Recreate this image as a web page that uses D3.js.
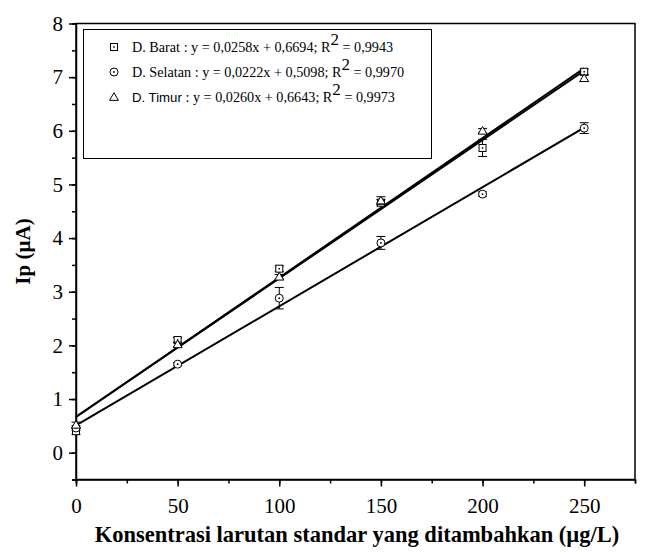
<!DOCTYPE html>
<html>
<head>
<meta charset="utf-8">
<script src="https://cdn.jsdelivr.net/npm/d3@7"></script>
<style>
  html, body { margin: 0; padding: 0; background: #fff; }
  svg { display: block; }
</style>
</head>
<body>
<script>
// Added standard concentration (µg/L) and measured peak current Ip (µA)
const concentrations = [0, 50, 100, 150, 200, 250];
const baratIp    = [0.40, 2.10, 3.43, 4.66, 5.68, 7.10];
const baratErr   = [0.06, 0.05, 0.05, 0.06, 0.16, 0.05];
const selatanIp  = [0.46, 1.65, 2.88, 3.91, 4.82, 6.05];
const selatanErr = [0.04, 0.03, 0.20, 0.12, 0.04, 0.10];
const timurIp    = [0.52, 2.02, 3.28, 4.70, 6.00, 6.98];
const timurErr   = [0.05, 0.04, 0.04, 0.07, 0.04, 0.06];

// Linear regression results for each sampling site
const siteNames  = ["D. Barat", "D. Selatan", "D. Timur"];
const slopes     = [0.0258, 0.0222, 0.0260];
const intercepts = [0.6694, 0.5098, 0.6643];
const rSquared   = [0.9943, 0.9970, 0.9973];
const symbols    = ["square", "circle", "triangle"];

const xTickValues = [0, 50, 100, 150, 200, 250];
const yTickValues = [0, 1, 2, 3, 4, 5, 6, 7, 8];

const SERIF = "'Liberation Serif', 'Times New Roman', serif";
const SANS = "'Liberation Sans', Arial, sans-serif";

const W = 647, H = 554;
const m = { left: 76, right: 12, top: 23.5, bottom: 74.5 };

const svg = d3.select("body").append("svg").attr("width", W).attr("height", H);

const x = d3.scaleLinear().domain([0, 275]).range([m.left, W - m.right]);
const y = d3.scaleLinear().domain([-0.5, 8]).range([H - m.bottom, m.top]);

const fmt = v => v.toFixed(4).replace(".", ",");

// Axes: major ticks with labels, minor ticks in between
const gx = svg.append("g").attr("transform", `translate(0,${y(-0.5)})`);
gx.call(d3.axisBottom(x).tickValues(d3.range(0, 276, 25)).tickSize(4).tickFormat(""));
gx.selectAll(".tick line").attr("stroke-width", 1.5);
const gxMajor = svg.append("g").attr("transform", `translate(0,${y(-0.5)})`)
  .call(d3.axisBottom(x).tickValues(xTickValues).tickSize(7).tickPadding(11));
gxMajor.select(".domain").remove();
gxMajor.selectAll(".tick line").attr("stroke-width", 1.5);
gxMajor.selectAll("text").attr("font-size", 21).attr("font-family", SERIF).attr("dy", "0.75em");

const gy = svg.append("g").attr("transform", `translate(${x(0)},0)`);
gy.call(d3.axisLeft(y).tickValues(d3.range(-0.5, 8.01, 0.5)).tickSize(4).tickFormat(""));
gy.selectAll(".tick line").attr("stroke-width", 1.5);
const gyMajor = svg.append("g").attr("transform", `translate(${x(0)},0)`)
  .call(d3.axisLeft(y).tickValues(yTickValues).tickSize(7).tickPadding(6));
gyMajor.select(".domain").remove();
gyMajor.selectAll(".tick line").attr("stroke-width", 1.5);
gyMajor.selectAll("text").attr("font-size", 21).attr("font-family", SERIF);

svg.selectAll(".domain").attr("stroke-width", 1.5);

// Closed frame on top and right
svg.append("rect")
  .attr("x", x(0)).attr("y", y(8))
  .attr("width", x(275) - x(0)).attr("height", y(-0.5) - y(8))
  .attr("fill", "none").attr("stroke", "#000").attr("stroke-width", 1.5);

// Regression lines
const plot = svg.append("g");
slopes.forEach((s, i) => {
  plot.append("line")
    .attr("x1", x(0)).attr("y1", y(intercepts[i]))
    .attr("x2", x(250)).attr("y2", y(intercepts[i] + s * 250))
    .attr("stroke", "#000").attr("stroke-width", 2);
});

// Markers with error bars
function marker(g, type, cx, cy) {
  if (type === "square") {
    g.append("rect").attr("x", cx - 3.5).attr("y", cy - 3.5).attr("width", 7).attr("height", 7)
      .attr("fill", "#fff").attr("stroke", "#000").attr("stroke-width", 1);
    g.append("rect").attr("x", cx - 0.75).attr("y", cy - 0.75).attr("width", 1.5).attr("height", 1.5).attr("fill", "#000");
  } else if (type === "circle") {
    g.append("circle").attr("cx", cx).attr("cy", cy).attr("r", 4)
      .attr("fill", "#fff").attr("stroke", "#000").attr("stroke-width", 1);
    g.append("circle").attr("cx", cx).attr("cy", cy).attr("r", 0.9).attr("fill", "#000");
  } else {
    const tri = d3.symbol().type(d3.symbolTriangle).size(34);
    g.append("path").attr("d", tri()).attr("transform", `translate(${cx},${cy + 0.8})`)
      .attr("fill", "#fff").attr("stroke", "#000").attr("stroke-width", 1);
  }
}

const seriesValues = [baratIp, selatanIp, timurIp];
const seriesErrors = [baratErr, selatanErr, timurErr];
seriesValues.forEach((vals, i) => {
  const g = svg.append("g");
  vals.forEach((v, j) => {
    const cx = x(concentrations[j]);
    const e = seriesErrors[i][j];
    const y1 = y(v + e), y2 = y(v - e);
    g.append("line").attr("x1", cx).attr("x2", cx).attr("y1", y1).attr("y2", y2)
      .attr("stroke", "#000").attr("stroke-width", 1);
    [y1, y2].forEach(yy => g.append("line").attr("x1", cx - 4.5).attr("x2", cx + 4.5)
      .attr("y1", yy).attr("y2", yy).attr("stroke", "#000").attr("stroke-width", 1));
    marker(g, symbols[i], cx, y(v));
  });
});

// Legend
const legend = svg.append("g");
legend.append("rect").attr("x", 83.5).attr("y", 29.5).attr("width", 348).attr("height", 129)
  .attr("fill", "#fff").attr("stroke", "#000").attr("stroke-width", 1);
const rowY = [47, 72, 97];
siteNames.forEach((name, i) => {
  const gy0 = rowY[i];
  marker(legend, symbols[i], 114, gy0);
  const t = legend.append("text").attr("x", 132).attr("y", gy0 + 5)
    .attr("font-family", SERIF).attr("font-size", 14.2).attr("fill", "#000");
  const nameSpan = t.append("tspan").text(name + " ");
  if (name === "D. Timur") nameSpan.attr("font-family", SANS).attr("font-size", 13.2);
  t.append("tspan").text(`: y = ${fmt(slopes[i])}x + ${fmt(intercepts[i])}; R`);
  t.append("tspan").attr("dy", -7).attr("font-size", 17).text("2");
  t.append("tspan").attr("dy", 7).text(` = ${fmt(rSquared[i])}`);
});

// Axis titles
svg.append("text")
  .attr("transform", `translate(30,${(y(8) + y(-0.5)) / 2}) rotate(-90)`)
  .attr("text-anchor", "middle").attr("font-family", SERIF)
  .attr("font-size", 21).attr("font-weight", "bold")
  .text("Ip (µA)");
svg.append("text")
  .attr("x", 357).attr("y", 542)
  .attr("text-anchor", "middle").attr("font-family", SERIF)
  .attr("font-size", 22.5).attr("font-weight", "bold")
  .text("Konsentrasi larutan standar yang ditambahkan (µg/L)");
</script>
</body>
</html>
